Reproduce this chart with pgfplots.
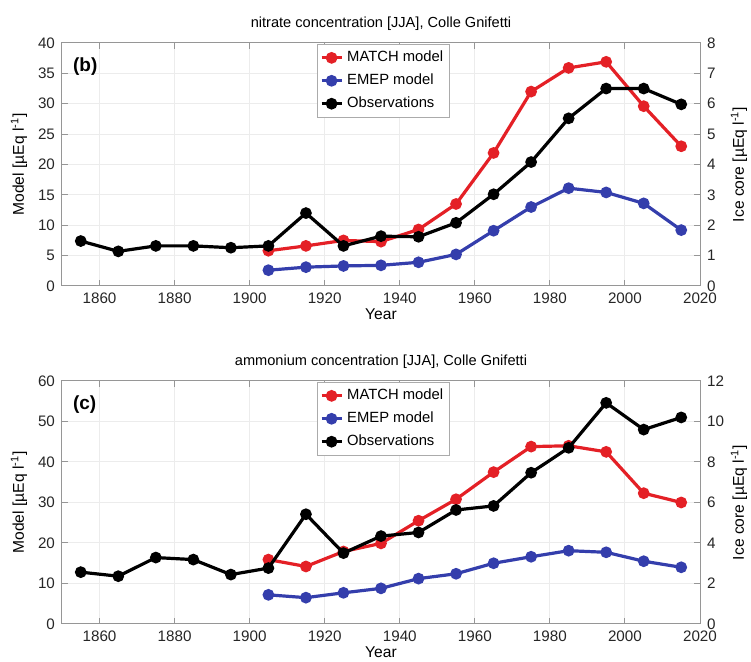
\documentclass[border=0pt]{standalone}
\usepackage{pgfplots}
\pgfplotsset{compat=1.18}
\usepackage{fontspec}
\setmainfont{Liberation Sans}
\definecolor{mred}{RGB}{228,32,38}
\definecolor{mblue}{RGB}{52,62,172}
\definecolor{axgray}{RGB}{150,150,150}
\definecolor{gridgray}{RGB}{236,236,236}

\pgfplotsset{
 base/.style={
  width=319pt, height=121.5pt, scale only axis,
  xmin=1850, xmax=2020, xtick={1860,1880,...,2020},
  /pgf/number format/assume math mode=true,
  /pgf/number format/1000 sep={},
  tick label style={font=\fontsize{7.6}{9}\selectfont, text=black!85},
  axis line style={axgray, line width=0.5pt},
  tick style={axgray, line width=0.5pt},
  major tick length=3pt,
  tick align=inside,
  clip=false,
 },
 lefta/.style={base,
  ytick pos=left,
  grid=major, major grid style={gridgray, line width=0.5pt},
  every axis y label/.style={at={(axis description cs:-0.0674,0.5)}, rotate=90, anchor=center, font=\fontsize{7.8}{9}\selectfont},
  every axis x label/.style={at={(axis description cs:0.5,0)}, anchor=base, yshift=-16.8pt, font=\fontsize{7.8}{9}\selectfont},
  every axis title/.style={at={(axis description cs:0.5,1)}, anchor=base, yshift=7.6pt, font=\fontsize{7.3}{9}\selectfont},
 },
 righta/.style={base,
  axis y line*=right, axis x line=none, tick align=inside,
  every axis y label/.style={at={(axis description cs:1.0611,0.5)}, rotate=90, anchor=center, font=\fontsize{7.8}{9}\selectfont},
  legend style={at={(axis description cs:0.40,0.995)}, anchor=north west, draw=axgray!80, line width=0.4pt,
   font=\fontsize{7.4}{8.6}\selectfont, cells={anchor=west}, row sep=0.6pt, inner xsep=1.2pt, inner ysep=1.2pt, fill=white},
  legend image code/.code={\draw[mark repeat=2,mark phase=2,#1] plot coordinates {(0pt,0pt) (5pt,0pt) (10pt,0pt)};},
 },
 ser/.style={line width=1.6pt, mark=*, mark size=2.1pt, color=#1, mark options={solid, fill=#1, draw=#1}},
}

\begin{document}
\begin{tikzpicture}
% ---------------- Panel (b): nitrate ----------------
\begin{axis}[lefta, at={(31pt,188pt)}, anchor=south west,
  ymin=0, ymax=40, ytick={0,5,...,40},
  ylabel={Model [µEq l\textsuperscript{-1}]}, xlabel={Year},
  title={nitrate concentration [JJA], Colle Gnifetti}]
\addplot[ser=mred] coordinates {
(1905,5.8) (1915,6.6) (1925,7.5) (1935,7.3) (1945,9.3) (1955,13.5)
(1965,21.9) (1975,32.0) (1985,35.9) (1995,36.9) (2005,29.6) (2015,23.0)};
\addplot[ser=mblue] coordinates {
(1905,2.6) (1915,3.1) (1925,3.3) (1935,3.4) (1945,3.9) (1955,5.2)
(1965,9.1) (1975,13.0) (1985,16.1) (1995,15.4) (2005,13.6) (2015,9.2)};
\node[anchor=west, font=\bfseries\fontsize{9.5}{11}\selectfont] at (axis description cs:0,1) [xshift=2pt, yshift=-12pt] {(b)};
\end{axis}
\begin{axis}[righta, at={(31pt,188pt)}, anchor=south west,
  ymin=0, ymax=8, ytick={0,1,...,8},
  ylabel={Ice core [µEq l\textsuperscript{-1}]}]
\addlegendimage{ser=mred}
\addlegendentry{MATCH model}
\addlegendimage{ser=mblue}
\addlegendentry{EMEP model}
\addplot[ser=black] coordinates {
(1855,1.48) (1865,1.14) (1875,1.32) (1885,1.32) (1895,1.26) (1905,1.32)
(1915,2.40) (1925,1.32) (1935,1.64) (1945,1.62) (1955,2.08) (1965,3.02)
(1975,4.08) (1985,5.52) (1995,6.50) (2005,6.50) (2015,5.98)};
\addlegendentry{Observations}
\end{axis}

% ---------------- Panel (c): ammonium ----------------
\begin{axis}[lefta, at={(31pt,19pt)}, anchor=south west,
  ymin=0, ymax=60, ytick={0,10,...,60},
  ylabel={Model [µEq l\textsuperscript{-1}]}, xlabel={Year},
  title={ammonium concentration [JJA], Colle Gnifetti}]
\addplot[ser=mred] coordinates {
(1905,15.9) (1915,14.2) (1925,17.9) (1935,19.9) (1945,25.5) (1955,30.8)
(1965,37.5) (1975,43.8) (1985,44.0) (1995,42.5) (2005,32.3) (2015,30.0)};
\addplot[ser=mblue] coordinates {
(1905,7.2) (1915,6.5) (1925,7.7) (1935,8.8) (1945,11.2) (1955,12.4)
(1965,15.0) (1975,16.6) (1985,18.1) (1995,17.7) (2005,15.5) (2015,14.0)};
\node[anchor=west, font=\bfseries\fontsize{9.5}{11}\selectfont] at (axis description cs:0,1) [xshift=2pt, yshift=-12pt] {(c)};
\end{axis}
\begin{axis}[righta, at={(31pt,19pt)}, anchor=south west,
  ymin=0, ymax=12, ytick={0,2,...,12},
  ylabel={Ice core [µEq l\textsuperscript{-1}]}]
\addlegendimage{ser=mred}
\addlegendentry{MATCH model}
\addlegendimage{ser=mblue}
\addlegendentry{EMEP model}
\addplot[ser=black] coordinates {
(1855,2.56) (1865,2.36) (1875,3.28) (1885,3.18) (1895,2.44) (1905,2.76)
(1915,5.42) (1925,3.50) (1935,4.34) (1945,4.52) (1955,5.63) (1965,5.83)
(1975,7.47) (1985,8.70) (1995,10.92) (2005,9.60) (2015,10.20)};
\addlegendentry{Observations}
\end{axis}

\pgfresetboundingbox
\path[use as bounding box] (0,0) rectangle (375.5pt,331pt);
\end{tikzpicture}
\end{document}
